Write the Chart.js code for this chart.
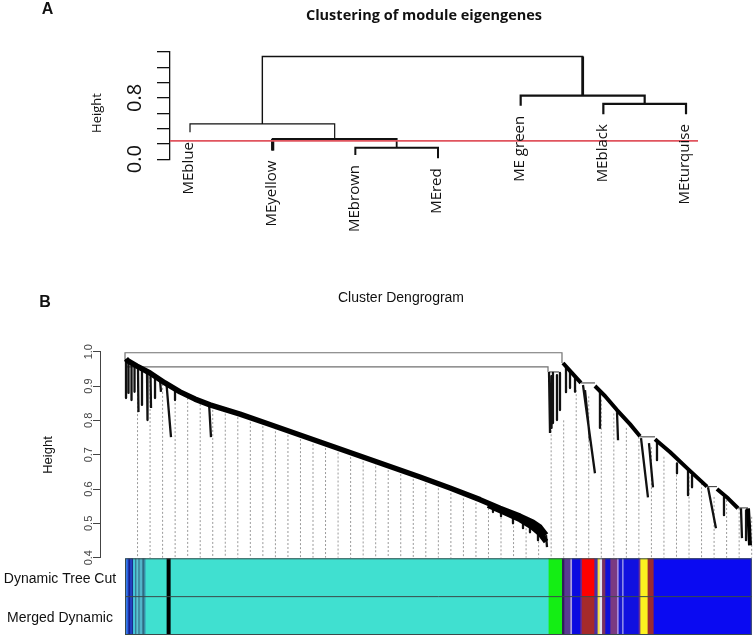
<!DOCTYPE html>
<html><head><meta charset="utf-8">
<script src="https://cdn.jsdelivr.net/npm/chart.js@4.4.1/dist/chart.umd.min.js"></script>
<style>
html,body{margin:0;padding:0;background:#fff;}
#wrap{position:relative;width:753px;height:638px;overflow:hidden;background:#fff;}
canvas{position:absolute;left:0;top:0;}
</style></head><body>
<div id="wrap">
<canvas id="cA" width="753" height="638"></canvas>
<canvas id="cB" width="753" height="638"></canvas>
<canvas id="cC" width="753" height="638"></canvas>
</div>
<script>
// ---------- Panel A data ----------
const leafNamesA = ['MEblue','MEyellow','MEbrown','MEred','ME green','MEblack','MEturquise'];
const leafPosA = [1,2,3,4,5,6,7];
const leafLowA = [0.353,0.113,0.055,0.012,0.697,0.588,0.588];
const mergeHeightA = [0.150,0.264,0.461,0.722,0.831,1.341];
const mergeLeftA = [3,2,1,6,5,1.875];
const mergeRightA = [4,3.5,2.75,7,6.5,5.75];
const mergeLeftLowA = [0.055,0.113,0.353,0.588,0.697,0.461];
const mergeRightLowA = [0.012,0.150,0.264,0.588,0.722,0.831];
const cutHeightA = 0.24;
const tickValuesA = [0, 0.8];
const tickLabelsA = ['0.0','0.8'];

// ---------- Panel B data (x = gene order position 0..100, y = height) ----------
const tickValuesB = [0.4,0.5,0.6,0.7,0.8,0.9,1.0];
const tickLabelsB = ['0.4','0.5','0.6','0.7','0.8','0.9','1.0'];
const bandLeftU = [0.16,0.48,1.91,3.99,6.38,8.78,11.17,13.56,18.35,23.14,31.12,39.10,47.07,51.86,56.65,59.84,63.03,65.10,66.22,67.18,null,57.92,60.64,63.03,64.94,66.22,67.18];
const bandLeftH = [0.979,0.973,0.958,0.938,0.909,0.883,0.862,0.845,0.818,0.788,0.737,0.686,0.635,0.603,0.569,0.544,0.521,0.503,0.489,0.466,null,0.553,0.531,0.511,0.490,0.470,0.447];
const bandRightU = [69.89,71.01,72.76,null,74.99,76.59,78.51,80.58,82.18,null,84.57,86.96,89.68,92.87,null,94.46,96.22,97.81,null,99.41,99.57,99.73];
const bandRightH = [0.967,0.944,0.909,null,0.900,0.871,0.830,0.789,0.754,null,0.745,0.708,0.661,0.607,null,0.600,0.573,0.544,null,0.544,0.495,0.436];
const topMergeU = [0,0,69.73,69.73,null,0,67.5,67.5];
const topMergeH = [0.972,0.997,0.997,0.967,null,0.956,0.956,0.941];
const boxU = [67.66,69.25,null,72.76,74.99,null,82.18,84.57,null,92.87,94.46,null,97.81,99.41];
const boxH = [0.941,0.941,null,0.909,0.909,null,0.752,0.752,null,0.607,0.607,null,0.545,0.545];
const spikeTopU = [0.16,0.56,1.04,1.52,2.07,2.71,3.51,4.07,4.79,5.58,6.62,7.98,13.40,60.0,61.91,63.51,64.62,65.90,67.18,58.72,67.66,68.29,68.93,69.41,68.06,70.37,71.01,71.81,73.08,73.40,75.79,78.51,82.34,83.61,84.89,88.08,89.84,90.48,93.03,95.58,98.29,99.10];
const spikeTopH = [0.976,0.970,0.964,0.961,0.955,0.950,0.941,0.935,0.926,0.920,0.906,0.894,0.853,0.535,0.518,0.503,0.495,0.480,0.466,0.547,0.941,0.938,0.932,0.938,0.929,0.952,0.941,0.929,0.903,0.888,0.888,0.824,0.748,0.734,0.743,0.675,0.655,0.640,0.605,0.576,0.544,0.538];
const spikeBotU = [0.16,0.56,1.04,1.52,2.15,2.71,3.59,4.15,4.79,5.74,7.34,7.98,13.72,60.0,61.91,63.51,64.62,65.90,67.34,58.72,67.82,68.29,68.93,69.41,68.06,70.37,71.01,71.81,74.99,74.20,75.79,78.67,83.45,84.25,84.89,88.08,89.84,90.48,94.30,95.58,98.45,99.10];
const spikeBotH = [0.865,0.880,0.859,0.883,0.824,0.845,0.801,0.836,0.865,0.883,0.751,0.859,0.751,0.521,0.500,0.486,0.474,0.451,0.431,0.533,0.763,0.792,0.801,0.830,0.778,0.882,0.894,0.883,0.646,0.742,0.778,0.742,0.576,0.605,0.684,0.646,0.582,0.605,0.486,0.524,0.457,0.451];
const guideU = [2,4,6,8,10,12,14,16,18,20,22,24,26,28,30,32,34,36,38,40,42,44,46,48,50,52,54,56,58,60,62,64,66,68,70,72,74,76,78,80,82,84,86,88,90,92,94,96,98,100];
const guideTopH = [0.958,0.938,0.918,0.897,0.877,0.859,0.842,0.831,0.821,0.807,0.795,0.780,0.769,0.757,0.743,0.731,0.718,0.705,0.692,0.678,0.667,0.655,0.641,0.629,0.614,0.600,0.585,0.571,0.556,0.541,0.527,0.509,0.483,0.771,0.800,0.888,0.870,0.860,0.820,0.778,0.752,0.722,0.694,0.665,0.636,0.617,0.577,0.568,0.544,0.519];

// ---------- Colour rows ----------
const rowLabels = ['Dynamic Tree Cut','Merged Dynamic'];
const segEnd = [0.16,0.48,0.80,1.01,1.23,1.55,1.76,2.07,2.28,2.71,3.03,3.24,6.59,7.23,67.54,69.68,70.05,71.01,71.28,72.60,72.88,74.84,75.36,75.68,76.07,76.59,77.39,78.46,78.72,79.26,79.51,81.91,82.18,83.34,84.30,100];
const row1Colors = ['#55b8e6','#2a5fe0','#14208c','#2a50dc','#182c8c','#44c8d8','#3a7a92','#5ac4d2','#3a7a92','#52b4c8','#306a82','#3aa2b8','#40e0d0','#000000','#40e0d0','#14ee14','#2e1e5a','#5a3a92','#a8a0e2','#0a0ae0','#6a2a8a','#ff0000','#4a30a2','#f2e040','#e2e0f0','#7a3060','#1010d8','#7a3a82','#a890e0','#1818d0','#9090e8','#1010e0','#6a3090','#fcf220','#9a2a30','#0a0af2'];
const row2Colors = ['#55b8e6','#2a5fe0','#14208c','#2a50dc','#182c8c','#44c8d8','#3a7a92','#5ac4d2','#3a7a92','#52b4c8','#306a82','#3aa2b8','#40e0d0','#000000','#40e0d0','#14ee14','#2e1e5a','#5a3a92','#a8a0e2','#0a0ae0','#6a2a8a','#a52a2a','#4a30a2','#f2e040','#e2e0f0','#7a3060','#1010d8','#7a3a82','#a890e0','#1818d0','#9090e8','#1010e0','#6a3090','#fcf220','#9a2a30','#0a0af2'];

// ---------- helpers ----------
function pts(us, hs){ return us.map((u,i)=> u===null ? {x:null,y:null} : {x:u,y:hs[i]}); }
function lineDs(data, color, width, order, extra){
  return Object.assign({data, showLine:true, borderColor:color, backgroundColor:color, borderWidth:width,
    pointRadius:0, pointHoverRadius:0, tension:0, spanGaps:false, clip:false, order,
    borderCapStyle:'butt', borderJoinStyle:'round'}, extra||{});
}
function rotText(ctx, txt, x, y, align){
  ctx.save(); ctx.translate(x,y); ctx.rotate(-Math.PI/2);
  ctx.textAlign = align; ctx.textBaseline='middle'; ctx.fillText(txt,0,0); ctx.restore();
}

// ---------- Chart A ----------
const mergeLineWidths = [2,1.8,1.2,2.2,2.2,1.4];
const dsA = mergeHeightA.map((h,i)=> lineDs([
  {x:mergeLeftA[i],y:mergeLeftLowA[i]},{x:mergeLeftA[i],y:h},{x:mergeRightA[i],y:h},{x:mergeRightA[i],y:mergeRightLowA[i]}
], '#111', mergeLineWidths[i], 3, {borderJoinStyle:'miter'}));
dsA.push(lineDs([{x:leafPosA[1],y:leafLowA[1]},{x:leafPosA[1],y:mergeHeightA[1]}], '#111', 3.2, 2));
dsA.push(lineDs([{x:mergeRightA[5],y:mergeRightLowA[5]},{x:mergeRightA[5],y:mergeHeightA[5]}], '#111', 2.8, 2));
dsA.push(lineDs([{x:0.758,y:cutHeightA},{x:7.145,y:cutHeightA}], '#e0545e', 1.8, 1));

const pluginA = {
  id:'textA',
  afterDraw(chart){
    const {ctx, scales:{x,y}} = chart;
    ctx.save();
    ctx.fillStyle = '#111';
    ctx.font = '15px "Open Sans"';
    leafNamesA.forEach((n,i)=>{
      rotText(ctx, n, x.getPixelForValue(leafPosA[i]) - 1, y.getPixelForValue(leafLowA[i]) + 10, 'right');
    });
    ctx.font = '20px "Open Sans"';
    tickValuesA.forEach((v,i)=> rotText(ctx, tickLabelsA[i], chart.chartArea.left - 35, y.getPixelForValue(v), 'center'));
    ctx.font = '13px "Open Sans"';
    rotText(ctx, 'Height', 97, 113, 'center');
    ctx.font = 'bold 14.5px "Open Sans"';
    ctx.textAlign='center'; ctx.textBaseline='middle';
    ctx.fillText('Clustering of module eigengenes', 424, 16);
    ctx.font = 'bold 16px "Liberation Sans"';
    ctx.fillText('A', 47.5, 10);
    ctx.restore();
  }
};

new Chart(document.getElementById('cA'), {
  type:'scatter',
  data:{datasets: dsA},
  options:{
    responsive:false, animation:false, events:[],
    layout:{padding:{left:157, right:55, top:52, bottom:478.8}},
    plugins:{legend:{display:false}, tooltip:{enabled:false}},
    scales:{
      x:{type:'linear', display:false, min:0.758, max:7.145},
      y:{type:'linear', min:0, max:1.4,
         ticks:{stepSize:0.2, display:false},
         grid:{drawOnChartArea:false, drawTicks:true, tickLength:13, color:'#111', lineWidth:1.3},
         border:{display:true, color:'#111', width:1.3},
         afterFit(s){ s.width = 13; }}
    }
  },
  plugins:[pluginA]
});

// ---------- Chart B ----------
const guideData = [];
guideU.forEach((u,i)=>{ guideData.push({x:u,y:guideTopH[i]},{x:u,y:0.4},{x:null,y:null}); });
const spikeData = [];
spikeTopU.forEach((u,i)=>{ spikeData.push({x:u,y:spikeTopH[i]},{x:spikeBotU[i],y:spikeBotH[i]},{x:null,y:null}); });

const dsB = [
  lineDs(guideData, '#9a9a9a', 1, 6, {borderDash:[2,2]}),
  lineDs(pts(topMergeU, topMergeH), '#707070', 1.2, 5, {borderJoinStyle:'miter'}),
  lineDs(pts(boxU, boxH), '#333', 1, 4),
  lineDs(spikeData, '#111', 2.3, 3),
  lineDs(pts(bandRightU, bandRightH), '#000', 4, 2),
  lineDs(pts(bandLeftU, bandLeftH), '#000', 5.5, 1)
];

const pluginB = {
  id:'textB',
  afterDraw(chart){
    const {ctx, scales:{y}} = chart;
    ctx.save();
    ctx.fillStyle = '#444';
    ctx.font = '11px "Liberation Sans"';
    tickValuesB.forEach((v,i)=> rotText(ctx, tickLabelsB[i], 89, y.getPixelForValue(v), 'center'));
    ctx.fillStyle = '#111';
    ctx.font = '13px "Liberation Sans"';
    rotText(ctx, 'Height', 48, 455, 'center');
    ctx.font = '14px "Liberation Sans"';
    ctx.textAlign='center'; ctx.textBaseline='middle';
    ctx.fillText('Cluster Dengrogram', 401, 298);
    ctx.font = 'bold 16px "Liberation Sans"';
    ctx.fillText('B', 45, 303);
    ctx.restore();
  }
};

new Chart(document.getElementById('cB'), {
  type:'scatter',
  data:{datasets: dsB},
  options:{
    responsive:false, animation:false, events:[],
    layout:{padding:{left:93, right:1, top:351.7, bottom:80.3}},
    plugins:{legend:{display:false}, tooltip:{enabled:false}},
    scales:{
      x:{type:'linear', display:false, min:-3.99, max:100.05},
      y:{type:'linear', min:0.4, max:1.0,
         ticks:{stepSize:0.1, display:false},
         grid:{drawOnChartArea:false, drawTicks:true, tickLength:7, color:'#444', lineWidth:1},
         border:{display:true, color:'#444', width:1},
         afterFit(s){ s.width = 7; }}
    }
  },
  plugins:[pluginB]
});

// ---------- Chart C (colour rows) ----------
const barDatasets = [];
[row1Colors, row2Colors].forEach((cols, r)=>{
  cols.forEach((c,i)=>{
    const d = [null,null];
    d[r] = [i===0 ? 0 : segEnd[i-1], segEnd[i]];
    barDatasets.push({data:d, backgroundColor:c, borderWidth:0, grouped:false,
      barPercentage:1, categoryPercentage:1});
  });
});

const pluginC = {
  id:'frameC',
  afterDraw(chart){
    const {ctx, chartArea:a, scales:{y}} = chart;
    ctx.save();
    ctx.strokeStyle = '#3a4a4a'; ctx.lineWidth = 1;
    ctx.strokeRect(a.left+0.5, a.top+0.5, a.width-1, a.height-1);
    const mid = (y.getPixelForValue(0) + y.getPixelForValue(1))/2;
    ctx.beginPath(); ctx.moveTo(a.left, mid); ctx.lineTo(a.right, mid); ctx.stroke();
    ctx.fillStyle = '#111';
    ctx.font = '14px "Liberation Sans"';
    ctx.textAlign='center'; ctx.textBaseline='middle';
    rowLabels.forEach((l,i)=> ctx.fillText(l, 60, y.getPixelForValue(i) + 2));
    ctx.restore();
  }
};

new Chart(document.getElementById('cC'), {
  type:'bar',
  data:{labels: rowLabels, datasets: barDatasets},
  options:{
    indexAxis:'y', responsive:false, animation:false, events:[],
    layout:{padding:{left:125, right:1.3, top:558.3, bottom:3}},
    plugins:{legend:{display:false}, tooltip:{enabled:false}},
    scales:{
      x:{type:'linear', display:false, min:0, max:100},
      y:{type:'category', display:false}
    }
  },
  plugins:[pluginC]
});
</script>
</body></html>
